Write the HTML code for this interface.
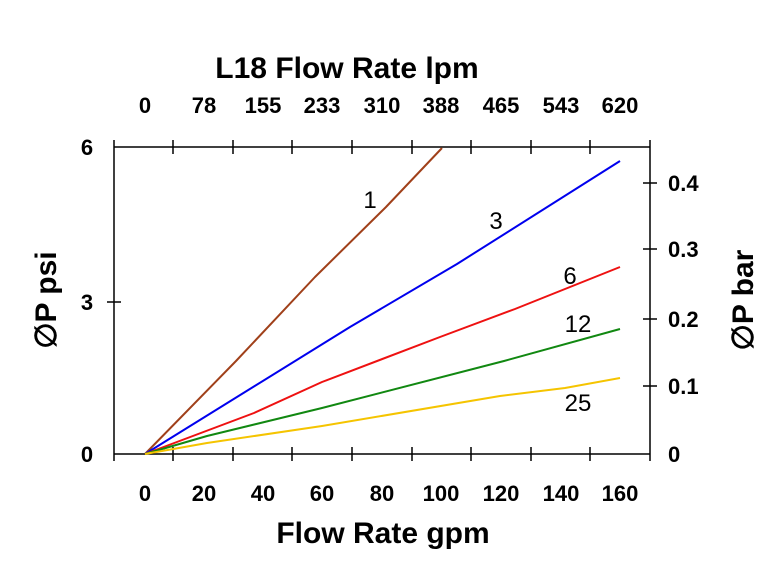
<!DOCTYPE html>
<html><head><style>body{margin:0;background:#fff}</style></head><body>
<svg width="768" height="564" viewBox="0 0 768 564" xmlns="http://www.w3.org/2000/svg" font-family="Liberation Sans, Arial, sans-serif">
<rect width="768" height="564" fill="#fff"/>
<g stroke="#000" stroke-width="1.5" fill="none">
<line x1="114" y1="147" x2="650" y2="147"/>
<line x1="114" y1="454" x2="650" y2="454"/>
<line x1="114" y1="140" x2="114" y2="461"/>
<line x1="650" y1="140" x2="650" y2="461"/>
<path d="M173 140V154M233 140V154M292 140V154M352 140V154M412 140V154M471 140V154M531 140V154M590 140V154"/>
<path d="M173 447V461M233 447V461M292 447V461M352 447V461M412 447V461M471 447V461M531 447V461M590 447V461"/>
<path d="M107 302H121M643 183H657M643 249H657M643 319H657M643 386H657"/>
</g>
<g fill="none" stroke-width="2" stroke-linejoin="round">
<polyline stroke="#a0401a" points="145,454 236,361 315,277 386,207 442,148"/>
<polyline stroke="#0000ee" points="145,454 350,327 457,264 620,161"/>
<polyline stroke="#ee1111" points="145,454 254,413 322,382 440,337 515,309 620,267"/>
<polyline stroke="#118811" points="145,454 207,436 322,408 504,361 620,329"/>
<polyline stroke="#f5c400" points="145,454 207,443 322,426 500,396 565,388 620,378"/>
</g>
<g font-size="24" text-anchor="middle" fill="#000">
<text x="370" y="208">1</text><text x="496" y="229">3</text><text x="570" y="284">6</text><text x="578" y="332">12</text><text x="578" y="411">25</text>
</g>
<g font-size="22" font-weight="bold" text-anchor="middle" fill="#000">
<text x="145" y="501">0</text><text x="204" y="501">20</text><text x="263" y="501">40</text><text x="322" y="501">60</text><text x="382" y="501">80</text><text x="441" y="501">100</text><text x="501" y="501">120</text><text x="561" y="501">140</text><text x="620" y="501">160</text>
<text x="145" y="113">0</text><text x="204" y="113">78</text><text x="263" y="113">155</text><text x="322" y="113">233</text><text x="382" y="113">310</text><text x="441" y="113">388</text><text x="501" y="113">465</text><text x="561" y="113">543</text><text x="620" y="113">620</text>
<text x="87" y="155">6</text><text x="87" y="310">3</text><text x="87" y="462">0</text>
</g>
<g font-size="22" font-weight="bold" fill="#000">
<text x="668" y="191">0.4</text><text x="668" y="257">0.3</text><text x="668" y="327">0.2</text><text x="668" y="394">0.1</text><text x="668" y="462">0</text>
</g>
<text x="347" y="78" font-size="30" font-weight="bold" text-anchor="middle">L18 Flow Rate lpm</text>
<text x="383" y="543" font-size="30" font-weight="bold" text-anchor="middle">Flow Rate gpm</text>
<text transform="translate(56,300) rotate(-90)" font-size="30" font-weight="bold" text-anchor="middle">∅P psi</text>
<text transform="translate(753,300) rotate(-90)" font-size="30" font-weight="bold" text-anchor="middle">∅P bar</text>
</svg>
</body></html>
